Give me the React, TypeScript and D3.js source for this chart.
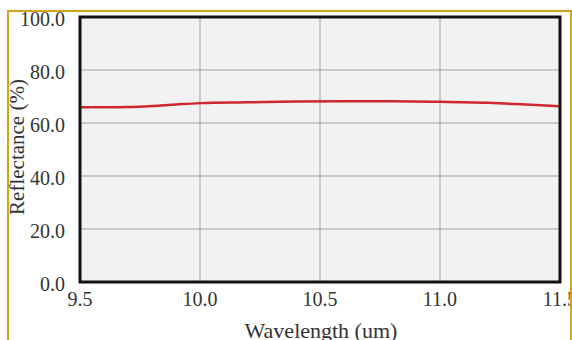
import React, { useEffect, useRef } from 'react'
import * as d3 from 'd3'

// reflectance curve
const wavelengths = [9.5, 9.6, 9.7, 9.8, 9.9, 10.0, 10.2, 10.4, 10.6, 10.8, 11.0, 11.2, 11.4, 11.5]
const reflectance = [65.9, 65.9, 66.0, 66.4, 67.0, 67.5, 67.8, 68.1, 68.2, 68.2, 68.0, 67.6, 66.8, 66.3]
const xTicks = [9.5, 10.0, 10.5, 11.0, 11.5]
const yTicks = [0, 20, 40, 60, 80, 100]

const FONT = '"Liberation Serif", "DejaVu Serif", serif'

export default function App() {
  const svgRef = useRef<SVGSVGElement>(null)

  useEffect(() => {
    const svg = d3.select(svgRef.current)
    svg.selectAll('*').remove()

    const W = 572
    const H = 340
    const left = 80, right = 560, top = 17, bottom = 282

    const x = d3.scaleLinear().domain([9.5, 11.5]).range([left, right])
    const y = d3.scaleLinear().domain([0, 100]).range([bottom, top])

    svg.append('rect').attr('width', W).attr('height', H).attr('fill', '#fff')

    svg.append('clipPath').attr('id', 'frame-clip')
      .append('rect').attr('x', 9).attr('y', 12).attr('width', 561).attr('height', H)

    const g = svg.append('g').attr('clip-path', 'url(#frame-clip)')

    // plot background
    g.append('rect')
      .attr('x', left).attr('y', top)
      .attr('width', right - left).attr('height', bottom - top)
      .attr('fill', '#f2f2f2')

    // grid
    g.selectAll('line.hgrid')
      .data(yTicks.slice(1, -1))
      .join('line')
      .attr('class', 'hgrid')
      .attr('x1', left).attr('x2', right)
      .attr('y1', d => y(d)).attr('y2', d => y(d))
      .attr('stroke', '#a0a0a0').attr('stroke-width', 1)

    g.selectAll('line.vgrid')
      .data(xTicks.slice(1, -1))
      .join('line')
      .attr('class', 'vgrid')
      .attr('y1', top).attr('y2', bottom)
      .attr('x1', d => x(d)).attr('x2', d => x(d))
      .attr('stroke', '#a0a0a0').attr('stroke-width', 1)

    // curve
    const pts = wavelengths.map((w, i) => [w, reflectance[i]] as [number, number])
    const line = d3.line<[number, number]>()
      .x(d => x(d[0]))
      .y(d => y(d[1]))
      .curve(d3.curveMonotoneX)

    g.append('path')
      .datum(pts)
      .attr('d', line)
      .attr('fill', 'none')
      .attr('stroke', '#d0272f')
      .attr('stroke-width', 2.5)

    // plot border
    g.append('rect')
      .attr('x', left).attr('y', top)
      .attr('width', right - left).attr('height', bottom - top)
      .attr('fill', 'none')
      .attr('stroke', '#111')
      .attr('stroke-width', 3)

    // tick labels
    g.selectAll('text.ylab')
      .data(yTicks)
      .join('text')
      .attr('class', 'ylab')
      .attr('x', 65)
      .attr('y', d => y(d) + 2)
      .attr('text-anchor', 'end')
      .attr('dominant-baseline', 'central')
      .attr('font-family', FONT)
      .attr('font-size', 20)
      .attr('fill', '#333')
      .text(d => d.toFixed(1))

    g.selectAll('text.xlab')
      .data(xTicks)
      .join('text')
      .attr('class', 'xlab')
      .attr('x', d => x(d))
      .attr('y', 306)
      .attr('text-anchor', 'middle')
      .attr('font-family', FONT)
      .attr('font-size', 20)
      .attr('fill', '#333')
      .text(d => d.toFixed(1))

    // axis titles
    g.append('text')
      .attr('x', (left + right) / 2 + 1)
      .attr('y', 338)
      .attr('text-anchor', 'middle')
      .attr('font-family', FONT)
      .attr('font-size', 22)
      .attr('fill', '#333')
      .text('Wavelength (um)')

    g.append('text')
      .attr('transform', 'translate(24,147) rotate(-90)')
      .attr('text-anchor', 'middle')
      .attr('font-family', FONT)
      .attr('font-size', 21)
      .attr('fill', '#333')
      .text('Reflectance (%)')

    // gold frame
    svg.append('path')
      .attr('d', `M8,${H} L8,11 L571,11 L571,${H}`)
      .attr('fill', 'none')
      .attr('stroke', '#d4a11c')
      .attr('stroke-width', 2)
  }, [])

  return (
    <svg
      ref={svgRef}
      width={572}
      height={340}
      style={{ position: 'absolute', left: 0, top: 0, display: 'block' }}
    />
  )
}
